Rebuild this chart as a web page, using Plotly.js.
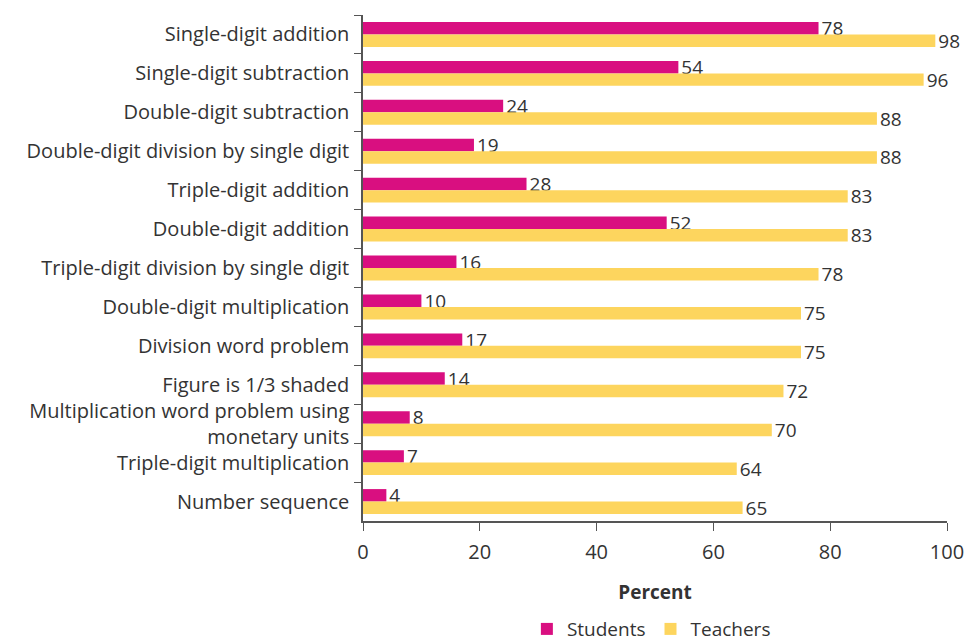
<!DOCTYPE html>
<html>
<head>
<meta charset="utf-8">
<script src="https://cdn.plot.ly/plotly-3.0.1.min.js"></script>
<style>
  body { margin: 0; background: #fff; }
  #chart { width: 965px; height: 641px; }
</style>
</head>
<body>
<div id="chart"></div>
<script>
var tasks = [
  "Single-digit addition",
  "Single-digit subtraction",
  "Double-digit subtraction",
  "Double-digit division by single digit",
  "Triple-digit addition",
  "Double-digit addition",
  "Triple-digit division by single digit",
  "Double-digit multiplication",
  "Division word problem",
  "Figure is 1/3 shaded",
  "Multiplication word problem using<br>monetary units",
  "Triple-digit multiplication",
  "Number sequence"
];
var students = [78, 54, 24, 19, 28, 52, 16, 10, 17, 14, 8, 7, 4];
var teachers = [98, 96, 88, 88, 83, 83, 78, 75, 75, 72, 70, 64, 65];
var xTicks = [0, 20, 40, 60, 80, 100];

var fontFam = '"Open Sans", Lato, sans-serif';

var trace_students = {
  y: tasks,
  x: students,
  name: 'Students',
  type: 'bar',
  orientation: 'h',
  marker: { color: '#d90f80' },
  text: students.map(String),
  textposition: 'outside',
  constraintext: 'none',
  cliponaxis: false,
  textfont: { color: '#333333', size: 19, family: fontFam }
};

var trace_teachers = {
  y: tasks,
  x: teachers,
  name: 'Teachers',
  type: 'bar',
  orientation: 'h',
  marker: { color: '#fdd55e' },
  text: teachers.map(String),
  textposition: 'outside',
  constraintext: 'none',
  cliponaxis: false,
  textfont: { color: '#333333', size: 19, family: fontFam }
};

var layout = {
  width: 965,
  height: 641,
  barmode: 'group',
  bargap: 0.36,
  bargroupgap: 0,
  margin: { l: 363, r: 18, t: 15, b: 120, autoexpand: false },
  paper_bgcolor: '#ffffff',
  plot_bgcolor: '#ffffff',
  font: { family: fontFam, color: '#333333', size: 20 },
  showlegend: true,
  legend: {
    orientation: 'h',
    x: 0.675,
    xanchor: 'center',
    xref: 'container',
    yref: 'paper',
    y: -0.176,
    yanchor: 'top',
    font: { size: 19 },
    itemwidth: 30
  },
  xaxis: {
    range: [0, 100],
    tickvals: xTicks,
    ticklabeloverflow: 'allow',
    showgrid: false,
    zeroline: false,
    showline: true,
    linecolor: '#555555',
    linewidth: 1.5,
    ticks: 'outside',
    ticklen: 8,
    tickcolor: '#555555',
    ticklabelstandoff: 4,
    automargin: false,
    fixedrange: true,
    title: { text: '<b>Percent</b>', font: { size: 19 }, standoff: 22 }
  },
  yaxis: {
    autorange: 'reversed',
    showgrid: false,
    showline: true,
    linecolor: '#555555',
    linewidth: 1.5,
    ticks: 'outside',
    tickson: 'boundaries',
    ticklen: 7,
    tickcolor: '#555555',
    ticklabelstandoff: 8,
    automargin: false,
    fixedrange: true
  }
};

Plotly.newPlot('chart', [trace_students, trace_teachers], layout, { displayModeBar: false });
</script>
</body>
</html>
